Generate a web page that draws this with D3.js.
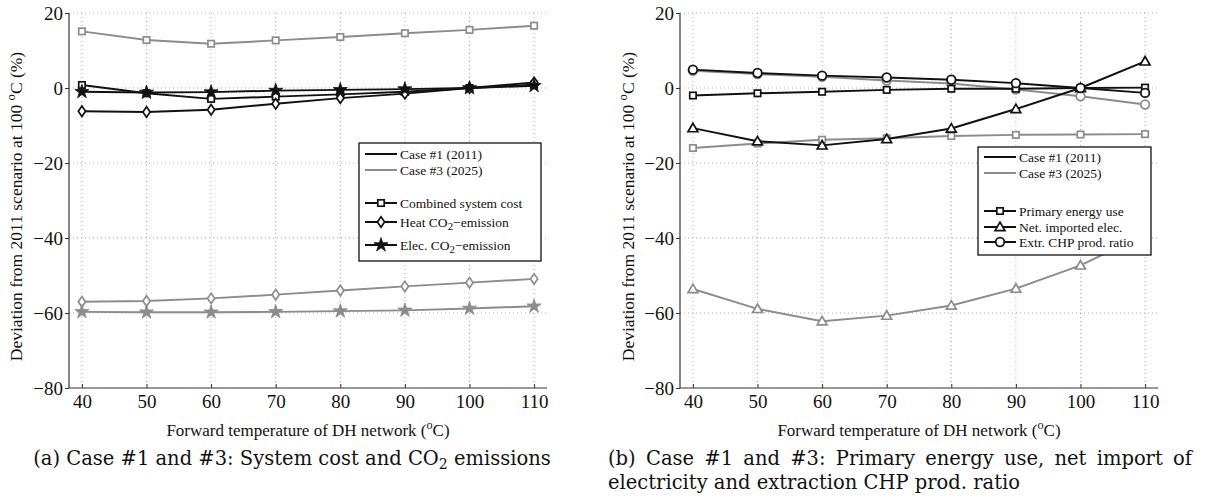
<!DOCTYPE html>
<html>
<head>
<meta charset="utf-8">
<script src="https://cdn.jsdelivr.net/npm/d3@7/dist/d3.min.js"></script>
<style>
  html, body { margin: 0; padding: 0; background: #fff; }
  svg { display: block; }
  text { font-family: "Liberation Serif", "Times New Roman", serif; fill: #111; }
  text.caption { font-family: "DejaVu Serif", serif; font-size: 19.5px; fill: #111; }
</style>
</head>
<body>
<svg id="chart" width="1205" height="501"></svg>
<script>
// Forward temperatures (°C) on the x axis
const temps = [40, 50, 60, 70, 80, 90, 100, 110];
const xTicks = [40, 50, 60, 70, 80, 90, 100, 110];
const yTicks = [20, 0, -20, -40, -60, -80];

// (a) system cost and CO2 emissions, deviation (%) from the 2011 scenario at 100 °C
const costCase1     = [0.8, -1.4, -2.9, -2.3, -1.7, -1.0, 0, 0.9];
const heatCo2Case1  = [-6.2, -6.4, -5.8, -4.2, -2.7, -1.5, 0, 1.5];
const elecCo2Case1  = [-1.0, -1.2, -1.1, -0.7, -0.5, -0.3, 0, 0.6];
const costCase3     = [15.1, 12.8, 11.8, 12.7, 13.6, 14.6, 15.5, 16.6];
const heatCo2Case3  = [-57.0, -56.8, -56.1, -55.1, -54.0, -52.9, -51.9, -50.9];
const elecCo2Case3  = [-59.7, -59.8, -59.8, -59.7, -59.5, -59.3, -58.8, -58.2];

// (b) primary energy, net imported electricity, extraction CHP production ratio
const primaryCase1  = [-2.0, -1.4, -1.0, -0.5, -0.2, -0.2, 0, 0.1];
const primaryCase3  = [-16.0, -14.8, -13.8, -13.4, -12.8, -12.5, -12.4, -12.3];
const importCase1   = [-10.7, -14.2, -15.3, -13.6, -10.8, -5.6, 0, 7.1];
const importCase3   = [-53.6, -58.9, -62.2, -60.7, -58.0, -53.5, -47.3, -39.0];
const chpCase1      = [4.9, 4.0, 3.3, 2.8, 2.2, 1.3, 0, -1.3];
const chpCase3      = [4.6, 3.7, 3.0, 2.0, 1.2, -0.4, -2.2, -4.4];

const caseLabels = ["Case #1 (2011)", "Case #3 (2025)"];
const captionA = "(a) Case #1 and #3: System cost and CO";
const captionB1 = "(b) Case #1 and #3: Primary energy use, net import of";
const captionB2 = "electricity and extraction CHP prod. ratio";

const BLACK = "#111111";
const GRAY = "#8c8c8c";

const svg = d3.select("#chart");

// marker drawing helpers
function drawMarker(g, kind, x, y, color) {
  if (kind === "square") {
    g.append("rect").attr("x", x - 3.2).attr("y", y - 3.2).attr("width", 6.4).attr("height", 6.4)
      .attr("fill", "#fff").attr("stroke", color).attr("stroke-width", 1.7);
  } else if (kind === "diamond") {
    g.append("path").attr("transform", `translate(${x},${y})`)
      .attr("d", "M0,-5.2L3.6,0L0,5.2L-3.6,0Z")
      .attr("fill", "#fff").attr("stroke", color).attr("stroke-width", 1.7);
  } else if (kind === "star") {
    g.append("path").attr("transform", `translate(${x},${y})`)
      .attr("d", d3.symbol(d3.symbolStar, 62)())
      .attr("fill", color).attr("stroke", color).attr("stroke-width", 0.8);
  } else if (kind === "triangle") {
    g.append("path").attr("transform", `translate(${x},${y + 0.8})`)
      .attr("d", d3.symbol(d3.symbolTriangle, 42)())
      .attr("fill", "#fff").attr("stroke", color).attr("stroke-width", 1.7);
  } else if (kind === "circle") {
    g.append("circle").attr("cx", x).attr("cy", y).attr("r", 4.3)
      .attr("fill", "#fff").attr("stroke", color).attr("stroke-width", 1.8);
  }
}

function subLabel(sel, parts) {
  // parts: array of [text, isSubscript]
  parts.forEach(([t, sub]) => {
    const ts = sel.append("tspan").text(t);
    if (sub) ts.attr("baseline-shift", "-28%").attr("font-size", "0.8em");
  });
}

function panel(opts) {
  const { left, right, top, bottom, series, legend, ylabelX } = opts;
  const g = svg.append("g");
  const x = d3.scaleLinear().domain([38, 112]).range([left, right]);
  const y = d3.scaleLinear().domain([-80, 20]).range([bottom, top]);

  // dotted grid
  const grid = g.append("g").attr("stroke", "#9a9a9a").attr("stroke-width", 0.8)
    .attr("stroke-dasharray", "1,3");
  xTicks.forEach(t => grid.append("line").attr("x1", x(t)).attr("x2", x(t))
    .attr("y1", y(20)).attr("y2", bottom));
  yTicks.filter(t => t > -80).forEach(t => grid.append("line").attr("x1", left).attr("x2", right)
    .attr("y1", y(t)).attr("y2", y(t)));

  // axes (left and bottom only)
  const yAxis = g.append("g").attr("transform", `translate(${left},0)`)
    .call(d3.axisLeft(y).tickValues(yTicks).tickSize(4).tickPadding(2).tickFormat(d3.format("d")));
  yAxis.select(".domain").attr("d", `M0,${top}V${bottom}`).attr("stroke", "#333").attr("stroke-width", 1.2);
  yAxis.selectAll(".tick line").attr("stroke", "#333");
  yAxis.selectAll(".tick text").style("font-size", "19px").attr("fill", "#222");

  const xAxis = g.append("g").attr("transform", `translate(0,${bottom})`)
    .call(d3.axisBottom(x).tickValues(xTicks).tickSize(-4).tickPadding(7));
  xAxis.select(".domain").attr("d", `M${left},0H${right}`).attr("stroke", "#333").attr("stroke-width", 1.2);
  xAxis.selectAll(".tick line").attr("stroke", "#333");
  xAxis.selectAll(".tick text").style("font-size", "19px").attr("fill", "#222");

  // axis titles
  const xt = g.append("text").attr("x", (left + right) / 2).attr("y", bottom + 48)
    .attr("text-anchor", "middle").style("font-size", "17px");
  xt.append("tspan").text("Forward temperature of DH network (");
  xt.append("tspan").text("o").attr("baseline-shift", "super").attr("font-size", "0.72em");
  xt.append("tspan").text("C)");

  const yt = g.append("text").attr("transform", `translate(${ylabelX},${(top + bottom) / 2 + 6}) rotate(-90)`)
    .attr("text-anchor", "middle").style("font-size", "17.5px");
  yt.append("tspan").text("Deviation from 2011 scenario at 100 ");
  yt.append("tspan").text("o").attr("baseline-shift", "super").attr("font-size", "0.72em");
  yt.append("tspan").text("C (%)");

  // series: case #3 (gray) drawn first, case #1 (black) on top
  const line = d3.line().x((d, i) => x(temps[i])).y(d => y(d));
  const marks = g.append("g");
  series.forEach(s => {
    marks.append("path").datum(s.values).attr("d", line).attr("fill", "none")
      .attr("stroke", s.color).attr("stroke-width", 2).attr("stroke-linejoin", "round");
    s.values.forEach((v, i) => drawMarker(marks, s.marker, x(temps[i]), y(v), s.color));
  });

  // legend box
  const lg = g.append("g");
  lg.append("rect").attr("x", legend.x).attr("y", legend.y).attr("width", legend.w).attr("height", legend.h)
    .attr("fill", "#fff").attr("stroke", "#111").attr("stroke-width", 1.3);
  legend.rows.forEach(r => {
    const cy = legend.y + r.dy;
    const x0 = legend.x + 6, x1 = legend.x + 38;
    lg.append("line").attr("x1", x0).attr("x2", x1).attr("y1", cy).attr("y2", cy)
      .attr("stroke", r.color).attr("stroke-width", 2);
    if (r.marker) drawMarker(lg, r.marker, (x0 + x1) / 2, cy, r.color);
    const t = lg.append("text").attr("x", x1 + 3).attr("y", cy + 4.5).style("font-size", "13.5px");
    subLabel(t, r.parts);
  });
  return g;
}

// panel (a)
panel({
  left: 69, right: 547, top: 13, bottom: 388, ylabelX: 22,
  series: [
    { values: costCase3, color: GRAY, marker: "square" },
    { values: heatCo2Case3, color: GRAY, marker: "diamond" },
    { values: elecCo2Case3, color: GRAY, marker: "star" },
    { values: costCase1, color: BLACK, marker: "square" },
    { values: heatCo2Case1, color: BLACK, marker: "diamond" },
    { values: elecCo2Case1, color: BLACK, marker: "star" }
  ],
  legend: {
    x: 359, y: 143, w: 182, h: 118,
    rows: [
      { dy: 11, color: BLACK, parts: [[caseLabels[0], false]] },
      { dy: 27, color: GRAY, parts: [[caseLabels[1], false]] },
      { dy: 60, color: BLACK, marker: "square", parts: [["Combined system cost", false]] },
      { dy: 79, color: BLACK, marker: "diamond", parts: [["Heat CO", false], ["2", true], ["\u2212emission", false]] },
      { dy: 102, color: BLACK, marker: "star", parts: [["Elec. CO", false], ["2", true], ["\u2212emission", false]] }
    ]
  }
});

// panel (b)
panel({
  left: 680, right: 1158, top: 13, bottom: 388, ylabelX: 634,
  series: [
    { values: primaryCase3, color: GRAY, marker: "square" },
    { values: importCase3, color: GRAY, marker: "triangle" },
    { values: chpCase3, color: GRAY, marker: "circle" },
    { values: primaryCase1, color: BLACK, marker: "square" },
    { values: importCase1, color: BLACK, marker: "triangle" },
    { values: chpCase1, color: BLACK, marker: "circle" }
  ],
  legend: {
    x: 978, y: 147, w: 173, h: 108,
    rows: [
      { dy: 10, color: BLACK, parts: [[caseLabels[0], false]] },
      { dy: 26, color: GRAY, parts: [[caseLabels[1], false]] },
      { dy: 64, color: BLACK, marker: "square", parts: [["Primary energy use", false]] },
      { dy: 80, color: BLACK, marker: "triangle", parts: [["Net. imported elec.", false]] },
      { dy: 95, color: BLACK, marker: "circle", parts: [["Extr. CHP prod. ratio", false]] }
    ]
  }
});

// sub-figure captions
const capA = svg.append("text").attr("class", "caption").attr("x", 292).attr("y", 465)
  .attr("text-anchor", "middle");
capA.append("tspan").text(captionA);
capA.append("tspan").text("2").attr("baseline-shift", "-25%").attr("font-size", "0.72em");
capA.append("tspan").text(" emissions");

// first line of caption (b) is justified: stretch the word gaps to fill the line
const capB1 = svg.append("text").attr("class", "caption").attr("x", 608).attr("y", 465).text(captionB1);
const natural = capB1.node().getComputedTextLength();
const gaps = captionB1.split(" ").length - 1;
capB1.style("word-spacing", Math.max(0, (584 - natural) / gaps) + "px");
svg.append("text").attr("class", "caption").attr("x", 608).attr("y", 489).text(captionB2);
</script>
</body>
</html>
